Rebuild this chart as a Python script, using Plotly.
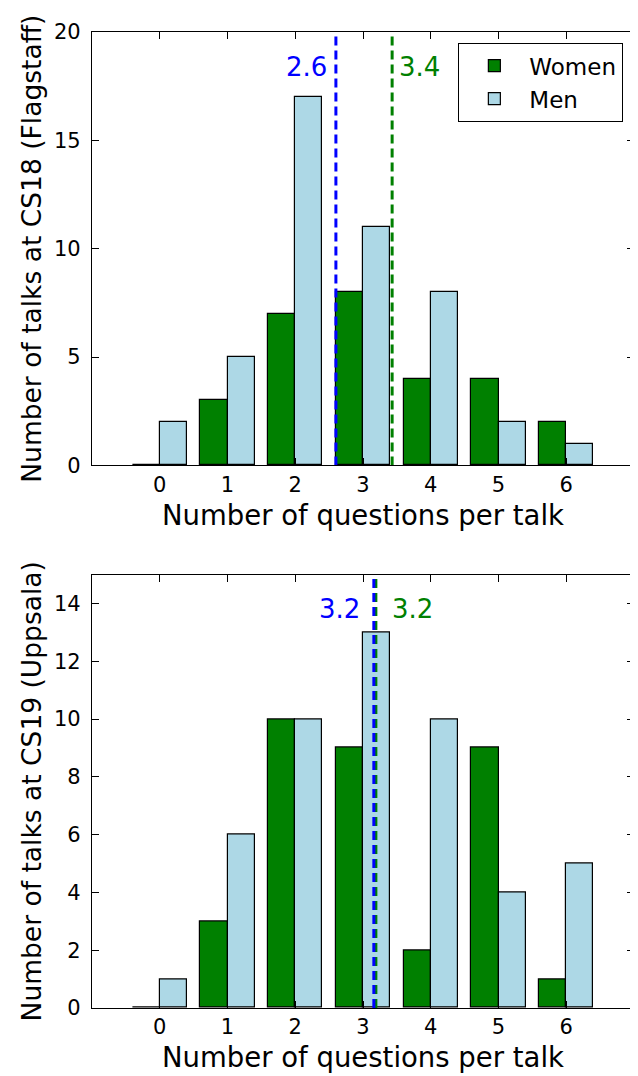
import plotly.graph_objects as go
from plotly.subplots import make_subplots

questions = [0, 1, 2, 3, 4, 5, 6]
women_cs18 = [0, 3, 7, 8, 4, 4, 2]
men_cs18 = [2, 5, 17, 11, 8, 2, 1]
women_cs19 = [0, 3, 10, 9, 2, 9, 1]
men_cs19 = [1, 6, 10, 13, 10, 4, 5]

mean_women_cs18 = 3.43
mean_men_cs18 = 2.60
mean_women_cs19 = 3.19
mean_men_cs19 = 3.16
label_women_cs18 = "3.4"
label_men_cs18 = "2.6"
label_women_cs19 = "3.2"
label_men_cs19 = "3.2"

GREEN = "#008000"
LBLUE = "#add8e6"
BLUE = "#0000ff"
FONT = "DejaVu Sans"

fig = make_subplots(rows=2, cols=1, vertical_spacing=0.1117)

panels = [
    (1, women_cs18, men_cs18, mean_women_cs18, mean_men_cs18, label_women_cs18, label_men_cs18,
     [0, 20], [0, 5, 10, 15, 20], 18.4, "Number of talks at CS18 (Flagstaff)"),
    (2, women_cs19, men_cs19, mean_women_cs19, mean_men_cs19, label_women_cs19, label_men_cs19,
     [0, 15], [0, 2, 4, 6, 8, 10, 12, 14], 13.8, "Number of talks at CS19 (Uppsala)"),
]

for row, w, m, mw, mm, lw, lm, yr, yt, ylab, ytitle in panels:
    fig.add_trace(go.Bar(x=questions, y=w, offset=-0.4, width=0.4, name="Women",
                         marker=dict(color=GREEN, line=dict(color="black", width=1.2)),
                         showlegend=(row == 1)), row=row, col=1)
    fig.add_trace(go.Bar(x=questions, y=m, offset=0.0, width=0.4, name="Men",
                         marker=dict(color=LBLUE, line=dict(color="black", width=1.2)),
                         showlegend=(row == 1)), row=row, col=1)
    fig.add_trace(go.Scatter(x=[mw, mw], y=yr, mode="lines", showlegend=False,
                             line=dict(color=GREEN, width=3, dash="9px,5px")), row=row, col=1)
    fig.add_trace(go.Scatter(x=[mm, mm], y=yr, mode="lines", showlegend=False,
                             line=dict(color=BLUE, width=3, dash="9px,5px")), row=row, col=1)
    xref = "x" if row == 1 else "x2"
    yref = "y" if row == 1 else "y2"
    fig.add_annotation(x=mm - (0.1 if row == 1 else 0.17), y=ylab, xref=xref, yref=yref, text=lm,
                       showarrow=False, xanchor="right", font=dict(color=BLUE, size=26, family=FONT))
    fig.add_annotation(x=mw + (0.07 if row == 1 else 0.21), y=ylab, xref=xref, yref=yref, text=lw,
                       showarrow=False, xanchor="left", font=dict(color=GREEN, size=26, family=FONT))
    fig.update_xaxes(range=[-1, 7], tickvals=questions, ticks="inside", ticklen=7, tickwidth=1,
                     tickcolor="black", showline=True, linecolor="black", linewidth=1.2, mirror="ticks",
                     showgrid=False, zeroline=False, automargin=False, ticklabelstandoff=0,
                     tickfont=dict(size=21, family=FONT, color="black"),
                     title=dict(text="Number of questions per talk", standoff=9,
                                font=dict(size=27.5, family=FONT, color="black")),
                     row=row, col=1)
    fig.update_yaxes(range=yr, tickvals=yt, ticks="inside", ticklen=7, tickwidth=1,
                     tickcolor="black", showline=True, linecolor="black", linewidth=1.2, mirror="ticks",
                     showgrid=False, zeroline=False, automargin=False, ticklabelstandoff=6,
                     tickfont=dict(size=21, family=FONT, color="black"),
                     title=dict(text=ytitle, standoff=4,
                                font=dict(size=26.5, family=FONT, color="black")),
                     row=row, col=1)

fig.update_layout(
    width=630, height=1068,
    margin=dict(l=84, r=4, t=24, b=68, autoexpand=False),
    plot_bgcolor="white", paper_bgcolor="white",
    barmode="overlay", bargap=0,
    font=dict(family=FONT, color="black"),
    legend=dict(x=0.98, y=0.9887, xanchor="right", yanchor="top",
                bordercolor="black", borderwidth=1.2, bgcolor="white",
                font=dict(size=23, family=FONT, color="black"),
                itemwidth=60, tracegroupgap=6),
)

fig.write_html("out.html")
